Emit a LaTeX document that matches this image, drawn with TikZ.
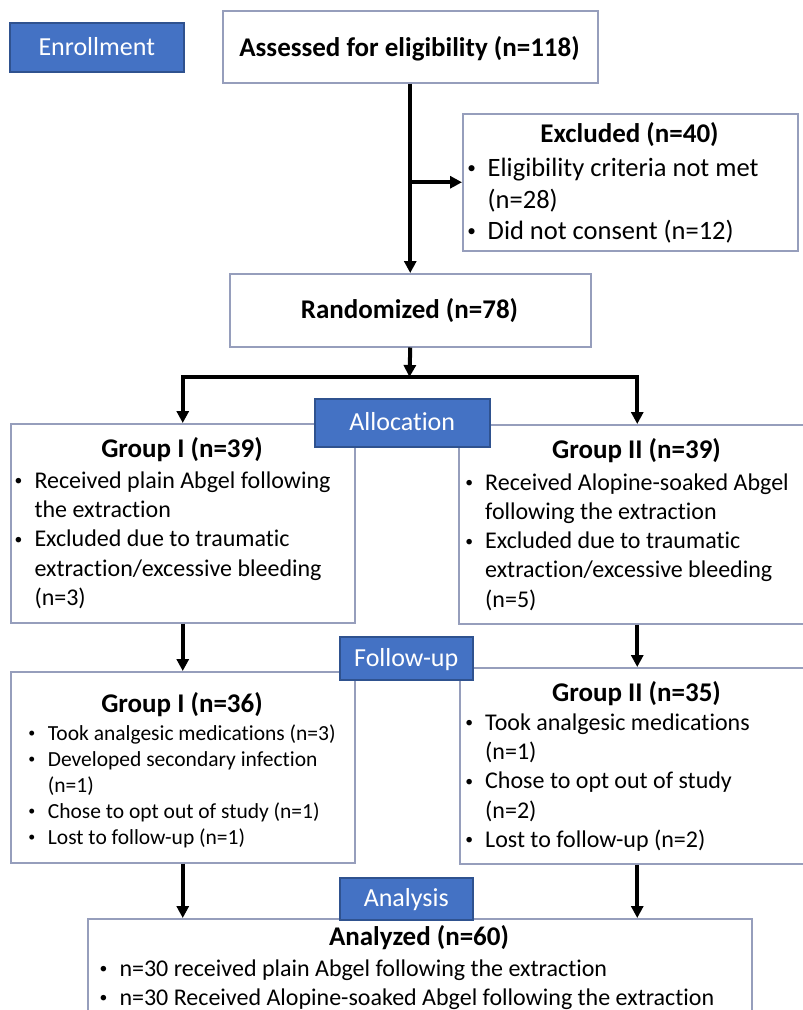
\documentclass[tikz,border=0pt]{standalone}
\usepackage{fontspec}
\setmainfont{Carlito}[Ligatures=NoCommon]
\usetikzlibrary{arrows.meta}
\definecolor{boxline}{RGB}{150,158,188}
\definecolor{labfill}{RGB}{68,114,196}
\definecolor{labline}{RGB}{47,82,143}
\newcommand{\bu}{\hspace*{-16pt}\makebox[0pt]{\raisebox{0.11em}{\scalebox{0.65}{•}}}\hspace*{16pt}}
\tikzset{
  frame/.style={draw=boxline, line width=1.5pt, fill=white, inner sep=0pt, anchor=north west},
  tag/.style={draw=labline, line width=1.5pt, fill=labfill, text=white, inner sep=0pt, anchor=north west,
    font=\fontsize{26}{31}\selectfont, text height=17pt, text depth=1pt},
  head/.style={anchor=base, inner sep=0pt, font=\fontsize{27}{32}\selectfont\bfseries},
  listA/.style={anchor=north west, inner sep=0pt, align=left, font=\fontsize{26.5}{31.5}\selectfont},
  listB/.style={anchor=north west, inner sep=0pt, align=left, font=\fontsize{24}{29.2}\selectfont},
  listC/.style={anchor=north west, inner sep=0pt, align=left, font=\fontsize{21.5}{26}\selectfont},
  flow/.style={line width=4pt, -{Triangle[length=12pt,width=12pt]}},
}
\begin{document}
\begin{tikzpicture}[x=1pt,y=-1pt]
\useasboundingbox (0,0) rectangle (803,1010);
\fill[white] (0,0) rectangle (803,1010);
\clip (0,0) rectangle (803,1010);

% boxes
\node[frame, minimum width=375pt, minimum height=72pt] (assess) at (222,10) {};
\node[frame, minimum width=335pt, minimum height=137pt] (excl) at (462,113) {};
\node[frame, minimum width=361pt, minimum height=73pt] (rand) at (229,273) {};
\node[frame, minimum width=344pt, minimum height=199pt] (g1a) at (10,423) {};
\node[frame, minimum width=357pt, minimum height=199pt] (g2a) at (458,424) {};
\node[frame, minimum width=344pt, minimum height=191pt] (g1b) at (10,671) {};
\node[frame, minimum width=355pt, minimum height=196pt] (g2b) at (459,667) {};
\node[frame, minimum width=664pt, minimum height=130pt] (analyzed) at (87,918) {};

% texts
\node[head] (assess-t) at (409.5,56) {Assessed for eligibility (n=118)};
\node[head] (excl-h) at (629.5,142.3) {Excluded (n=40)};
\node[listA] (excl-l) at (487.5,154.3) {\strut\bu Eligibility criteria not met\\(n=28)\\\bu Did not consent (n=12)};
\node[head] (rand-t) at (409.5,318.3) {Randomized (n=78)};
\node[head] (g1a-h) at (182,457) {Group I (n=39)};
\node[listB] (g1a-l) at (34.3,467.9) {\strut\bu Received plain Abgel following\\the extraction\\\bu Excluded due to traumatic\\extraction/excessive bleeding\\(n=3)};
\node[head] (g2a-h) at (636.5,458.3) {Group II (n=39)};
\node[listB] (g2a-l) at (485,469.6) {\strut\bu Received Alopine-soaked Abgel\\following the extraction\\\bu Excluded due to traumatic\\extraction/excessive bleeding\\(n=5)};
\node[head] (g1b-h) at (182,712) {Group I (n=36)};
\node[listC] (g1b-l) at (47.7,721.8) {\strut\bu Took analgesic medications (n=3)\\\bu Developed secondary infection\\(n=1)\\\bu Chose to opt out of study (n=1)\\\bu Lost to follow-up (n=1)};
\node[head] (g2b-h) at (636.5,701.3) {Group II (n=35)};
\node[listB] (g2b-l) at (485,709.9) {\strut\bu Took analgesic medications\\(n=1)\\\bu Chose to opt out of study\\(n=2)\\\bu Lost to follow-up (n=2)};
\node[head] (ana-h) at (419,945) {Analyzed (n=60)};
\node[listB] (ana-l) at (119.3,955.7) {\strut\bu n=30 received plain Abgel following the extraction\\\bu n=30 Received Alopine-soaked Abgel following the extraction};

% connectors
\coordinate (bar) at (409.5,377);
\draw[flow] (assess.south) -- (rand.north);
\draw[flow] (assess.south |- excl.west) -- (excl.west);
\draw[flow] (rand.south) -- (bar);
\draw[flow] (bar) -| (g1a.north);
\draw[flow] (bar) -| (g2a.north);
\draw[flow] (g1a.south) -- (g1b.north);
\draw[flow] (g2a.south) -- (g2b.north);
\draw[flow] (g1b.south) -- (g1b.south |- analyzed.north);
\draw[flow] (g2b.south) -- (g2b.south |- analyzed.north);

% stage tags
\node[tag, minimum width=174pt, minimum height=49pt] (enroll) at (9,22) {Enrollment};
\node[tag, minimum width=175pt, minimum height=48pt] (alloc) at (314,398) {Allocation};
\node[tag, minimum width=133pt, minimum height=43pt] (follow) at (339,636) {Follow-up};
\node[tag, minimum width=133pt, minimum height=42pt] (analysis) at (339,877) {Analysis};
\end{tikzpicture}
\end{document}
